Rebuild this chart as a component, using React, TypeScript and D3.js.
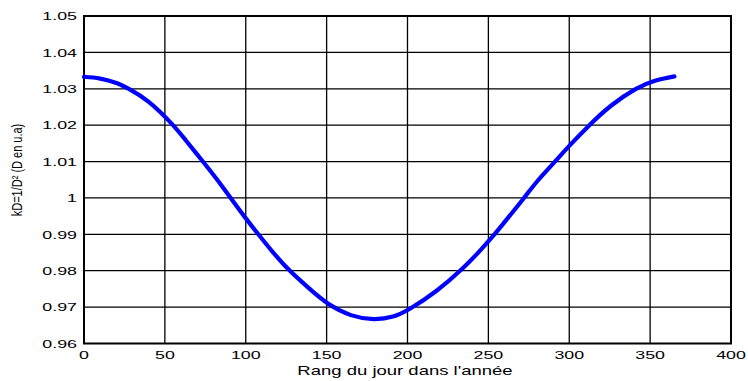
import React from "react";
import * as d3 from "d3";

const days = [0, 10, 20, 28, 40, 54, 63, 73, 82, 90, 99, 108, 117, 127, 139, 151, 165, 179, 191, 202, 218, 234, 245, 254, 263, 272, 281, 291, 300, 312, 326, 341, 353, 365];
const kD = [1.0333, 1.0328, 1.0316, 1.0299, 1.0264, 1.0205, 1.0158, 1.0103, 1.0052, 1.0004, 0.995, 0.9899, 0.985, 0.9801, 0.9752, 0.9709, 0.9678, 0.9667, 0.9674, 0.9697, 0.9745, 0.9806, 0.9856, 0.9901, 0.995, 1.0, 1.005, 1.0099, 1.0143, 1.0198, 1.0254, 1.0299, 1.0322, 1.0334];
const xTicks = [0, 50, 100, 150, 200, 250, 300, 350, 400];
const yTicks = [0.96, 0.97, 0.98, 0.99, 1, 1.01, 1.02, 1.03, 1.04, 1.05];
const xTitle = "Rang du jour dans l'année";
const yTitle = "kD=1/D² (D en u.a)";

const W = 748, H = 381;
const L = 84, R = 731, T = 16, B = 343.5;

export default function App() {
  const x = d3.scaleLinear().domain([0, 400]).range([L, R]);
  const y = d3.scaleLinear().domain([0.96, 1.05]).range([B, T]);
  const pts = days.map((d, i) => [d, kD[i]] as [number, number]);
  const line = d3.line<[number, number]>().x(d => x(d[0])).y(d => y(d[1])).curve(d3.curveNatural);
  const font = "'Liberation Sans', Arial, sans-serif";
  return (
    <svg width={W} height={H} style={{ position: "absolute", left: 0, top: 0, background: "#fff" }}>
      <rect x={0} y={0} width={W} height={H} fill="#fff" />
      {xTicks.slice(1, -1).map(t => (
        <line key={"gx" + t} x1={x(t)} x2={x(t)} y1={T} y2={B} stroke="#000" strokeWidth={1.3} />
      ))}
      {yTicks.slice(1, -1).map(t => (
        <line key={"gy" + t} x1={L} x2={R} y1={y(t)} y2={y(t)} stroke="#000" strokeWidth={1.3} />
      ))}
      <rect x={L} y={T} width={R - L} height={B - T} fill="none" stroke="#000" strokeWidth={2} />
      <path d={line(pts) || ""} fill="none" stroke="#0000ff" strokeWidth={4.2} strokeLinecap="round" strokeLinejoin="round" />
      {yTicks.map(t => (
        <text key={"ty" + t} transform={`translate(77,${y(t) + 4.2}) scale(1.55,1)`} textAnchor="end" fontFamily={font} fontSize={11.5} fill="#000">
          {String(t)}
        </text>
      ))}
      {xTicks.map(t => (
        <text key={"tx" + t} transform={`translate(${x(t)},359) scale(1.55,1)`} textAnchor="middle" fontFamily={font} fontSize={11.5} fill="#000">
          {String(t)}
        </text>
      ))}
      <text transform={`translate(405,374.5) scale(1.37,1)`} textAnchor="middle" fontFamily={font} fontSize={13.5} fill="#000">
        {xTitle}
      </text>
      <text transform={`translate(22,170) scale(1.35,1) rotate(-90)`} textAnchor="middle" fontFamily={font} fontSize={11} fill="#000">
        {yTitle}
      </text>
    </svg>
  );
}
